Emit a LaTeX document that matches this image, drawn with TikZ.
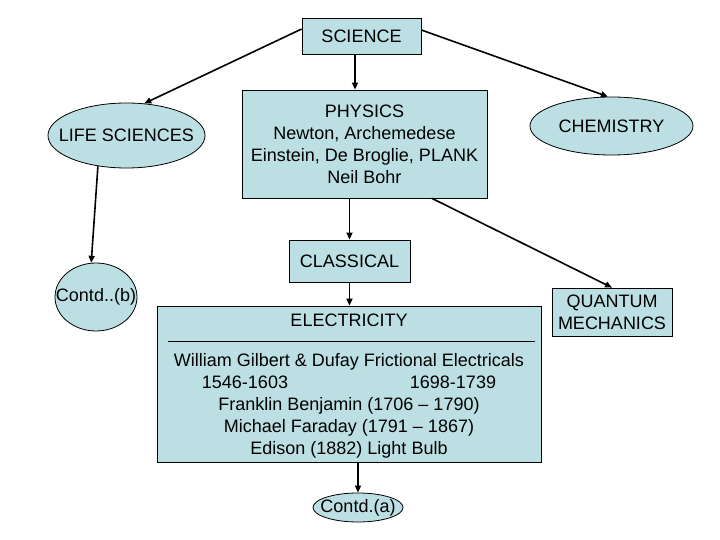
\documentclass[tikz,border=0pt]{standalone}
\usepackage{fontspec}
\setmainfont{Liberation Sans}
\usepackage{tikz}
\usetikzlibrary{arrows.meta,calc,shapes.geometric}
\definecolor{blackmain}{HTML}{000000}
\definecolor{boxfill}{HTML}{BBDFE3}
\tikzset{every node/.append style={font=\fontsize{18}{22}\selectfont}}
\tikzset{
  topicbox/.style={draw=blackmain,fill=boxfill,line width=0.8pt,inner sep=0pt,align=center},
  topicoval/.style={topicbox,ellipse},
  link/.style={->,blackmain,line width=1.6pt},
}
\newcommand{\ovalword}[1]{\makebox[0pt]{#1}}

\begin{document}
\begin{tikzpicture}[x=1pt,y=-1pt,>={Triangle[length=7pt,width=6pt]}]
  \useasboundingbox[fill=white] (0,0) rectangle (720,540);
  % top level
  \node[topicbox,minimum width=119pt,minimum height=36pt] (sci) at (361.5,36) {SCIENCE};
  \node[topicbox,minimum width=245pt,minimum height=108pt] (phys) at (364.5,144)
    {PHYSICS\\Newton, Archemedese\\Einstein, De Broglie, PLANK\\Neil Bohr};
  \node[topicoval,minimum width=157pt,minimum height=65pt] (life) at (126.5,135.5) {\ovalword{LIFE SCIENCES}};
  \node[topicoval,minimum width=163pt,minimum height=58pt] (chem) at (611.5,126) {\ovalword{CHEMISTRY}};
  % second level
  \node[topicoval,minimum width=82pt,minimum height=68pt] (contdb) at (96,297) {\ovalword{Contd..(b)}};
  \node[topicbox,minimum width=121pt,minimum height=42pt] (class) at (349.5,261) {CLASSICAL};
  \node[topicbox,minimum width=120pt,minimum height=48pt] (quant) at (612,312) {QUANTUM\\MECHANICS};
  \node[topicbox,minimum width=384pt,minimum height=156pt] (elec) at (349,384) {};
  \node (electitle) at (349,320) {ELECTRICITY};
  \draw[blackmain,line width=0.8pt] ($(elec.north west)+(11,36)$) -- ($(elec.north east)+(-6,36)$);
  \node[align=center] (elecnames) at (349,406)
    {William Gilbert \& Dufay Frictional Electricals\\
     \makebox[90pt]{1546-1603}\hspace{118pt}\makebox[90pt]{1698-1739}\\
     Franklin Benjamin (1706 – 1790)\\
     Michael Faraday (1791 – 1867)\\
     Edison (1882) Light Bulb};
  \node[topicoval,minimum width=90pt,minimum height=29pt] (contda) at (358,507.5) {\ovalword{Contd.(a)}};
  % connectors
  \draw[link] ($(sci.west)+(0,-7)$) -- (life.61);
  \draw[link] ($(sci.east)+(0,-6)$) -- (chem.97);
  \draw[link] ([xshift=-6.5pt]sci.south) -- ([xshift=-6.5pt]sci.south |- phys.north);
  \draw[link] (life.227) -- (contdb.98);
  \draw[link] (class.north |- phys.south) -- (class.north);
  \draw[link] (class.south) -- (class.south |- elec.north);
  \draw[link] ([xshift=67.5pt]phys.south) -- (quant.north);
  \draw[link] (contda.north |- elec.south) -- (contda.north);
\end{tikzpicture}
\end{document}
